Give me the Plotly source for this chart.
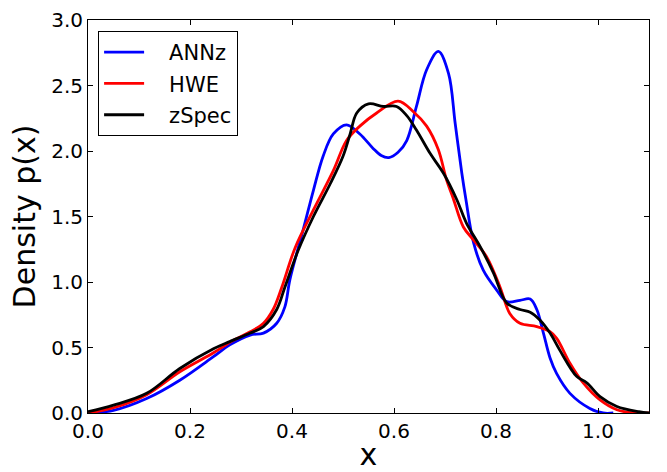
import plotly.graph_objects as go

# ANNz
annz_x = [0, 0.05, 0.115, 0.18, 0.246, 0.278, 0.318, 0.344, 0.37, 0.386, 0.396, 0.422, 0.442, 0.461, 0.481,
          0.507, 0.533, 0.559, 0.575, 0.59, 0.608, 0.625, 0.644, 0.664, 0.687, 0.707, 0.72, 0.733, 0.741, 0.756,
          0.775, 0.801, 0.821, 0.847, 0.867, 0.88, 0.893, 0.906, 0.919, 0.945, 0.984, 1.01, 1.03]
annz_y = [0, 0.02, 0.11, 0.25, 0.43, 0.52, 0.595, 0.61, 0.685, 0.81, 1.02, 1.40, 1.70, 1.96, 2.13,
          2.20, 2.13, 2.02, 1.965, 1.95, 1.99, 2.08, 2.34, 2.62, 2.76, 2.59, 2.21, 1.83, 1.63, 1.30,
          1.09, 0.94, 0.85, 0.86, 0.87, 0.79, 0.61, 0.42, 0.30, 0.15, 0.035, 0.0, 0.0]

# HWE
hwe_x = [0, 0.05, 0.115, 0.18, 0.246, 0.285, 0.318, 0.344, 0.363, 0.38, 0.406, 0.442, 0.481, 0.507, 0.533,
         0.566, 0.608, 0.638, 0.664, 0.687, 0.703, 0.716, 0.736, 0.756, 0.782, 0.808, 0.827, 0.847, 0.88,
         0.906, 0.919, 0.945, 0.971, 1.004, 1.037, 1.07, 1.1]
hwe_y = [0, 0.04, 0.14, 0.315, 0.46, 0.555, 0.62, 0.685, 0.79, 0.96, 1.26, 1.55, 1.85, 2.08, 2.19,
         2.29, 2.38, 2.30, 2.19, 2.01, 1.78, 1.64, 1.42, 1.32, 1.19, 0.96, 0.76, 0.685, 0.66,
         0.62, 0.57, 0.38, 0.23, 0.10, 0.025, 0.0, 0.0]

# zSpec
zspec_x = [0, 0.05, 0.115, 0.18, 0.246, 0.278, 0.318, 0.344, 0.37, 0.386, 0.412, 0.442, 0.475, 0.50, 0.514,
           0.527, 0.55, 0.579, 0.605, 0.625, 0.644, 0.671, 0.697, 0.723, 0.742, 0.769, 0.795, 0.821, 0.847,
           0.867, 0.886, 0.906, 0.925, 0.958, 0.978, 1.004, 1.037, 1.08, 1.1]
zspec_y = [0.01, 0.06, 0.15, 0.34, 0.49, 0.545, 0.61, 0.66, 0.79, 0.96, 1.24, 1.50, 1.75, 1.96, 2.13,
           2.29, 2.36, 2.34, 2.34, 2.27, 2.16, 1.98, 1.83, 1.63, 1.45, 1.27, 1.07, 0.84, 0.79,
           0.77, 0.71, 0.61, 0.48, 0.28, 0.23, 0.125, 0.05, 0.01, 0.0]

series = [
    ("ANNz", annz_x, annz_y, "#0000ff"),
    ("HWE", hwe_x, hwe_y, "#ff0000"),
    ("zSpec", zspec_x, zspec_y, "#000000"),
]

PAD = "\u00a0\u00a0\u00a0"

fig = go.Figure()
for name, xs, ys, col in series:
    fig.add_trace(go.Scatter(
        x=xs, y=ys, name=PAD + name, mode="lines", legendgroup=name,
        line=dict(color=col, width=2.8, shape="spline", smoothing=1.0),
    ))

font_family = "DejaVu Sans"
axis_common = dict(
    showline=True, linecolor="black", linewidth=1, mirror="ticks",
    ticks="inside", ticklen=5, tickwidth=1, tickcolor="black",
    showgrid=False, zeroline=False, automargin=False,
    tickfont=dict(family=font_family, size=20, color="black"),
)

fig.update_layout(
    width=667, height=472,
    margin=dict(l=88, r=18, t=20, b=59),
    paper_bgcolor="white", plot_bgcolor="white",
    font=dict(family=font_family, color="black"),
    xaxis=dict(range=[0, 1.1], dtick=0.2, tick0=0, tickformat=".1f",
               title=dict(text="x", font=dict(family=font_family, size=30), standoff=18),
               **axis_common),
    yaxis=dict(range=[0, 3.0], dtick=0.5, tick0=0, tickformat=".1f",
               title=dict(text="Density p(x)", font=dict(family=font_family, size=30), standoff=6),
               **axis_common),
    legend=dict(
        x=0.018, y=0.972, xanchor="left", yanchor="top",
        bgcolor="white", bordercolor="black", borderwidth=1,
        font=dict(family=font_family, size=21, color="black"),
        tracegroupgap=1, itemwidth=40,
    ),
    showlegend=True,
)

fig.write_html("out.html")
